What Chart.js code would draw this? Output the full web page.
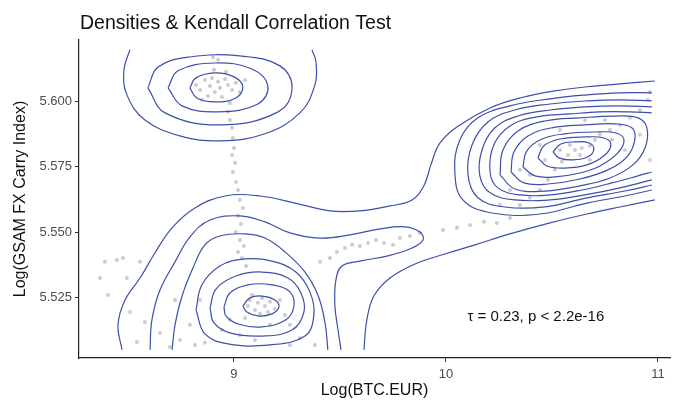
<!DOCTYPE html>
<html>
<head>
<meta charset="utf-8">
<script src="https://cdn.jsdelivr.net/npm/chart.js@4/dist/chart.umd.min.js"></script>
<style>
  html, body { margin: 0; padding: 0; background: #ffffff; }
  #wrap { width: 675px; height: 400px; }
</style>
</head>
<body>
<div id="wrap"><canvas id="chart" width="675" height="400"></canvas></div>
<script>
// ---- text ----
const titleText = 'Densities & Kendall Correlation Test';
const xTitle = 'Log(BTC.EUR)';
const yTitle = 'Log(GSAM FX Carry Index)';
const statText = 'τ = 0.23, p < 2.2e-16';
const statAt = [10.424, 5.5175];

// ---- axes ----
const xTicks = [9, 10, 11];
const yTicks = [5.525, 5.550, 5.575, 5.600];
const xRange = [8.269, 11.057];
const yRange = [5.5018, 5.6235];

// ---- observations ----
const pointX = [
  8.863, 8.896, 8.925, 8.958, 8.887, 8.934, 8.972, 8.840, 8.910, 8.991, 8.877, 8.943, 9.009, 8.821, 8.962, 9.028, 8.906, 8.849, 8.981, 9.052, 8.901, 8.925,
  8.972, 8.981, 8.991, 8.995, 9.000, 8.991, 9.005, 8.995, 9.009, 9.019,
  9.028, 9.042, 9.019, 9.033, 9.009, 9.028, 9.047, 9.019, 9.038, 9.057,
  9.075, 9.113, 9.146, 9.099, 9.132, 9.170, 9.066, 9.193, 9.123, 9.160, 9.085, 9.217, 9.052, 9.241, 9.264, 9.170, 8.981, 8.943, 9.028, 9.311, 9.382, 9.099, 8.863, 8.816, 9.264,
  8.391, 8.448, 8.476, 8.557, 8.368, 8.495, 8.406, 8.509, 8.580, 8.542, 8.651, 8.698, 8.745, 8.792, 8.840, 8.722,
  9.486, 9.524, 9.557, 9.594, 9.632, 9.670, 9.708, 9.750, 9.783, 9.830, 9.877, 9.453, 9.406,
  9.986, 10.052, 10.113, 10.179, 10.240, 10.302,
  10.349, 10.396, 10.443, 10.481, 10.514, 10.547, 10.576, 10.609, 10.641, 10.679, 10.538, 10.585, 10.632, 10.703, 10.726, 10.774, 10.821, 10.868,
  10.915, 10.953, 10.962, 10.783, 10.679, 10.467, 10.396, 10.302, 10.255, 10.844, 10.750, 10.538, 10.656, 10.443, 10.915, 10.962, 10.349
];
const pointY = [
  5.6082, 5.6090, 5.6075, 5.6086, 5.6059, 5.6052, 5.6063, 5.6044, 5.6036, 5.6044, 5.6021, 5.6017, 5.6071, 5.6063, 5.6113, 5.6036, 5.6121, 5.6006, 5.5994, 5.6082, 5.6170, 5.6159,
  5.5960, 5.5929, 5.5899, 5.5860, 5.5822, 5.5795, 5.5765, 5.5730, 5.5692, 5.5661,
  5.5623, 5.5592, 5.5562, 5.5531, 5.5500, 5.5470, 5.5447, 5.5424, 5.5401, 5.5370,
  5.5240, 5.5229, 5.5217, 5.5202, 5.5248, 5.5233, 5.5217, 5.5206, 5.5187, 5.5194, 5.5259, 5.5240, 5.5171, 5.5183, 5.5145, 5.5145, 5.5164, 5.5125, 5.5106, 5.5095, 5.5068, 5.5087, 5.5076, 5.5068, 5.5068,
  5.5386, 5.5393, 5.5401, 5.5386, 5.5324, 5.5324, 5.5259, 5.5194, 5.5156, 5.5079, 5.5114, 5.5060, 5.5087, 5.5145, 5.5240, 5.5240,
  5.5424, 5.5439, 5.5451, 5.5447, 5.5458, 5.5470, 5.5458, 5.5451, 5.5477, 5.5485, 5.5497, 5.5401, 5.5386,
  5.5508, 5.5516, 5.5527, 5.5539, 5.5535, 5.5554,
  5.5604, 5.5631, 5.5661, 5.5700, 5.5738, 5.5769, 5.5795, 5.5814, 5.5822, 5.5830, 5.5814, 5.5833, 5.5795, 5.5853, 5.5872, 5.5891, 5.5910, 5.5937,
  5.5967, 5.6006, 5.6036, 5.5853, 5.5776, 5.5776, 5.5719, 5.5661, 5.5604, 5.5814, 5.5929, 5.5891, 5.5929, 5.5833, 5.5872, 5.5776, 5.5738
];

// ---- density contour lines, [x, y] vertices ----
// upper-left mode
const upperLeft1 = [[8.509,5.6197],[8.481,5.6121],[8.495,5.6025],[8.580,5.5929],[8.745,5.5868],[8.934,5.5849],[9.146,5.5876],[9.311,5.5956],[9.382,5.6063],[9.387,5.6151],[9.368,5.6197]];
const upperLeft2 = [[8.594,5.6052],[8.642,5.6132],[8.792,5.6170],[9.028,5.6174],[9.217,5.6136],[9.274,5.6052],[9.208,5.5960],[8.934,5.5910],[8.675,5.5956]];
const upperLeft3 = [[8.689,5.6052],[8.736,5.6117],[8.910,5.6147],[9.085,5.6124],[9.160,5.6059],[9.113,5.5990],[8.925,5.5960],[8.755,5.5983]];
const upperLeft4 = [[8.792,5.6052],[8.821,5.6090],[8.910,5.6109],[9.000,5.6094],[9.042,5.6056],[9.009,5.6013],[8.910,5.5998],[8.825,5.6013]];

// lowest level, joining the lower-left and right modes
const outerUpper = [[8.472,5.5049],[8.453,5.5145],[8.486,5.5240],[8.557,5.5324],[8.627,5.5420],[8.708,5.5516],[8.816,5.5592],[8.958,5.5638],[9.123,5.5638],[9.288,5.5611],[9.453,5.5581],[9.594,5.5581],[9.736,5.5600],[9.840,5.5623],[9.896,5.5677],[9.929,5.5757],[9.972,5.5841],[10.066,5.5910],[10.208,5.5975],[10.349,5.6013],[10.514,5.6040],[10.665,5.6056],[10.821,5.6067],[10.986,5.6078]];
const outerLower = [[10.986,5.5623],[10.821,5.5596],[10.665,5.5569],[10.491,5.5535],[10.302,5.5493],[10.137,5.5451],[9.995,5.5416],[9.854,5.5378],[9.736,5.5324],[9.660,5.5255],[9.627,5.5164],[9.613,5.5049]];

// lower-left mode (level 2 reaches out to the middle bump)
const lowerLeft2 = [[8.604,5.5049],[8.613,5.5164],[8.651,5.5278],[8.722,5.5386],[8.792,5.5481],[8.887,5.5546],[9.028,5.5562],[9.146,5.5539],[9.264,5.5497],[9.406,5.5477],[9.547,5.5489],[9.689,5.5512],[9.807,5.5520],[9.877,5.5500],[9.892,5.5470],[9.840,5.5439],[9.726,5.5409],[9.594,5.5389],[9.509,5.5370],[9.481,5.5317],[9.476,5.5221],[9.491,5.5125],[9.505,5.5049]];
const lowerLeft3 = [[8.708,5.5049],[8.722,5.5145],[8.755,5.5255],[8.807,5.5363],[8.863,5.5451],[8.934,5.5485],[9.052,5.5493],[9.146,5.5477],[9.241,5.5424],[9.335,5.5347],[9.396,5.5259],[9.429,5.5156],[9.443,5.5049]];
const lowerLeft4 = [[8.821,5.5202],[8.849,5.5298],[8.934,5.5370],[9.052,5.5397],[9.179,5.5389],[9.292,5.5347],[9.358,5.5271],[9.377,5.5183],[9.335,5.5102],[9.170,5.5068],[8.972,5.5072],[8.863,5.5110]];
const lowerLeft5 = [[8.887,5.5209],[8.915,5.5282],[9.009,5.5332],[9.132,5.5347],[9.255,5.5324],[9.316,5.5267],[9.330,5.5194],[9.274,5.5125],[9.132,5.5102],[8.981,5.5114],[8.906,5.5152]];
const lowerLeft6 = [[8.953,5.5213],[8.981,5.5267],[9.066,5.5298],[9.179,5.5298],[9.264,5.5271],[9.283,5.5217],[9.245,5.5164],[9.132,5.5137],[9.019,5.5148],[8.962,5.5179]];
const lowerLeft7 = [[9.042,5.5217],[9.075,5.5248],[9.132,5.5255],[9.193,5.5240],[9.212,5.5213],[9.179,5.5187],[9.113,5.5179],[9.061,5.5194]];

// right mode
const right2 = [[10.971,5.6033],[10.821,5.6033],[10.665,5.6025],[10.491,5.6010],[10.302,5.5983],[10.151,5.5937],[10.066,5.5853],[10.042,5.5730],[10.080,5.5623],[10.217,5.5573],[10.443,5.5569],[10.665,5.5611],[10.844,5.5638],[10.971,5.5661]];
const right3 = [[10.971,5.6002],[10.821,5.6006],[10.665,5.6002],[10.491,5.5990],[10.325,5.5967],[10.198,5.5921],[10.123,5.5833],[10.104,5.5719],[10.151,5.5631],[10.278,5.5596],[10.467,5.5596],[10.665,5.5631],[10.844,5.5657],[10.971,5.5680]];
const right4 = [[10.971,5.5979],[10.821,5.5983],[10.656,5.5979],[10.491,5.5967],[10.340,5.5944],[10.231,5.5899],[10.170,5.5814],[10.160,5.5715],[10.208,5.5650],[10.325,5.5623],[10.491,5.5623],[10.656,5.5642],[10.821,5.5669],[10.971,5.5700]];
const right5 = [[10.971,5.5956],[10.868,5.5960],[10.726,5.5960],[10.585,5.5952],[10.429,5.5941],[10.302,5.5906],[10.226,5.5834],[10.208,5.5730],[10.245,5.5669],[10.349,5.5642],[10.491,5.5642],[10.641,5.5661],[10.783,5.5688],[10.906,5.5715],[10.971,5.5730]];
const right6 = [[10.255,5.5719],[10.269,5.5814],[10.340,5.5887],[10.467,5.5925],[10.632,5.5937],[10.797,5.5944],[10.906,5.5937],[10.948,5.5899],[10.939,5.5822],[10.882,5.5757],[10.774,5.5707],[10.632,5.5677],[10.467,5.5657],[10.325,5.5665]];
const right7 = [[10.307,5.5730],[10.321,5.5807],[10.387,5.5868],[10.500,5.5899],[10.656,5.5910],[10.797,5.5914],[10.877,5.5899],[10.891,5.5853],[10.854,5.5788],[10.764,5.5738],[10.632,5.5703],[10.481,5.5684],[10.368,5.5688]];
const right8 = [[10.363,5.5749],[10.382,5.5811],[10.453,5.5856],[10.561,5.5876],[10.703,5.5883],[10.802,5.5879],[10.840,5.5853],[10.811,5.5803],[10.726,5.5753],[10.632,5.5726],[10.514,5.5711],[10.420,5.5715]];
const right9 = [[10.434,5.5784],[10.462,5.5830],[10.538,5.5856],[10.656,5.5864],[10.745,5.5860],[10.778,5.5837],[10.750,5.5795],[10.665,5.5757],[10.561,5.5745],[10.476,5.5753]];
const right10 = [[10.505,5.5807],[10.542,5.5837],[10.609,5.5845],[10.675,5.5841],[10.698,5.5818],[10.670,5.5788],[10.599,5.5776],[10.533,5.5784]];

// lines that run off the edge of the estimation window stay open
const openLines = [upperLeft1, outerUpper, outerLower, lowerLeft2, lowerLeft3, right2, right3, right4, right5];
const closedLines = [upperLeft2, upperLeft3, upperLeft4, lowerLeft4, lowerLeft5, lowerLeft6, lowerLeft7,
                     right6, right7, right8, right9, right10];

// ---- styling ----
const FONT = '"Liberation Sans", Arial, Helvetica, sans-serif';
const LINE_COLOR = 'rgb(60, 80, 170)';
const POINT_COLOR = 'rgba(140, 140, 150, 0.45)';

const toXY = arr => arr.map(([x, y]) => ({ x, y }));
const lineSet = (vertices, closed) => ({
  data: toXY(closed ? vertices.concat([vertices[0]]) : vertices),
  showLine: true,
  borderColor: LINE_COLOR,
  borderWidth: 1.2,
  pointRadius: 0,
  pointHoverRadius: 0,
  tension: 0.4,
  fill: false,
  order: 1
});

const datasets = [
  {
    data: pointX.map((x, i) => ({ x, y: pointY[i] })),
    showLine: false,
    pointRadius: 2,
    pointBorderWidth: 0,
    pointBackgroundColor: POINT_COLOR,
    order: 2
  },
  ...openLines.map(l => lineSet(l, false)),
  ...closedLines.map(l => lineSet(l, true))
];

// title and test statistic
const textLayer = {
  id: 'textLayer',
  afterDraw(chart) {
    const { ctx, chartArea, scales } = chart;
    ctx.save();
    ctx.fillStyle = '#111';
    ctx.textBaseline = 'middle';
    ctx.textAlign = 'left';
    ctx.font = '19.5px ' + FONT;
    ctx.fillText(titleText, chartArea.left + 1, 24);
    ctx.textAlign = 'center';
    ctx.font = '15px ' + FONT;
    ctx.fillText(statText, scales.x.getPixelForValue(statAt[0]), scales.y.getPixelForValue(statAt[1]));
    ctx.restore();
  }
};

new Chart(document.getElementById('chart'), {
  type: 'scatter',
  data: { datasets },
  plugins: [textLayer],
  options: {
    responsive: false,
    animation: false,
    devicePixelRatio: 1,
    layout: { padding: { top: 40, right: 5, bottom: 0, left: 0 } },
    plugins: { legend: { display: false }, tooltip: { enabled: false }, title: { display: false } },
    scales: {
      x: {
        type: 'linear',
        min: xRange[0],
        max: xRange[1],
        afterBuildTicks: s => { s.ticks = xTicks.map(v => ({ value: v })); },
        afterFit: s => { s.height = 42; },
        grid: { display: true, drawOnChartArea: false, drawTicks: true, tickLength: 4, color: '#333', lineWidth: 1 },
        border: { display: true, color: '#222', width: 1.2 },
        ticks: { color: '#4d4d4d', font: { size: 13, family: FONT }, padding: 5, maxRotation: 0, autoSkip: false, callback: v => String(v) },
        title: { display: true, text: xTitle, color: '#111', font: { size: 16, family: FONT }, padding: { top: 0, bottom: 0 } }
      },
      y: {
        type: 'linear',
        min: yRange[0],
        max: yRange[1],
        afterBuildTicks: s => { s.ticks = yTicks.map(v => ({ value: v })); },
        afterFit: s => { s.width = 79; },
        grid: { display: true, drawOnChartArea: false, drawTicks: true, tickLength: 4, color: '#333', lineWidth: 1 },
        border: { display: true, color: '#222', width: 1.2 },
        ticks: { color: '#4d4d4d', font: { size: 13, family: FONT }, padding: 3, autoSkip: false, callback: v => v.toFixed(3) },
        title: { display: true, text: yTitle, color: '#111', font: { size: 16, family: FONT }, padding: { top: 11, bottom: 0 } }
      }
    }
  }
});
</script>
</body>
</html>
